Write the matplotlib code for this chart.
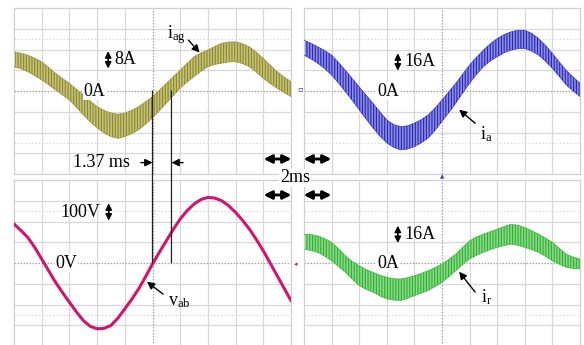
import numpy as np
import matplotlib.pyplot as plt
from matplotlib.patches import ConnectionPatch

plt.rcParams['font.family'] = ['Liberation Serif', 'DejaVu Serif']
plt.rcParams['mathtext.fontset'] = 'custom'
plt.rcParams['mathtext.rm'] = 'Liberation Serif'
plt.rcParams['mathtext.it'] = 'Liberation Serif:italic'
plt.rcParams['hatch.linewidth'] = 0.8

# time axis in divisions (2 ms/div), sampled every quarter division
t = np.arange(0, 10.25, 0.25)

# i_ag ripple band (upper / lower edge, divisions)
iag_hi = [1.89, 1.82, 1.73, 1.58, 1.41, 1.14, 0.85, 0.60, 0.37, 0.09, -0.19,
          -0.48, -0.75, -0.93, -1.06, -1.12, -1.06, -0.93, -0.75, -0.52, -0.27,
          0.04, 0.37, 0.69, 1.00, 1.34, 1.65, 1.84, 1.97, 2.15, 2.30, 2.36,
          2.37, 2.28, 2.13, 1.87, 1.57, 1.25, 0.93, 0.68, 0.45]
iag_lo = [1.17, 1.07, 0.93, 0.74, 0.53, 0.30, 0.05, -0.19, -0.43, -0.78, -1.15,
          -1.48, -1.78, -2.02, -2.20, -2.28, -2.20, -2.06, -1.87, -1.60, -1.30,
          -0.95, -0.59, -0.22, 0.14, 0.43, 0.69, 0.95, 1.17, 1.28, 1.34, 1.40,
          1.41, 1.32, 1.17, 0.90, 0.61, 0.36, 0.13, -0.08, -0.27]

# i_a ripple band
ia_hi = [2.45, 2.30, 2.13, 1.95, 1.73, 1.38, 1.00, 0.60, 0.20, -0.20, -0.59,
         -1.00, -1.39, -1.62, -1.71, -1.68, -1.55, -1.38, -1.15, -0.82, -0.43,
         -0.03, 0.37, 0.82, 1.25, 1.63, 1.97, 2.28, 2.53, 2.72, 2.85, 2.93,
         2.93, 2.78, 2.53, 2.20, 1.81, 1.40, 1.00, 0.68, 0.37]
ia_lo = [1.73, 1.55, 1.33, 1.08, 0.77, 0.38, -0.03, -0.46, -0.91, -1.35, -1.78,
         -2.18, -2.50, -2.72, -2.84, -2.80, -2.68, -2.50, -2.27, -1.90, -1.47,
         -1.04, -0.59, -0.10, 0.37, 0.80, 1.17, 1.45, 1.65, 1.84, 1.97, 2.04,
         2.05, 1.92, 1.73, 1.43, 1.09, 0.70, 0.29, 0.00, -0.27]

# v_ab trace
vab = [1.88, 1.57, 1.23, 0.75, 0.19, -0.37, -0.93, -1.42, -1.89, -2.35, -2.77,
       -3.05, -3.17, -3.15, -3.01, -2.66, -2.21, -1.75, -1.25, -0.66, -0.05,
       0.52, 1.07, 1.62, 2.12, 2.52, 2.84, 3.06, 3.16, 3.13, 3.00, 2.76,
       2.44, 2.06, 1.63, 1.13, 0.59, -0.01, -0.61, -1.21, -1.81]

# i_r ripple band
ir_hi = [1.39, 1.37, 1.31, 1.18, 1.00, 0.70, 0.35, 0.08, -0.13, -0.31, -0.45,
         -0.59, -0.69, -0.76, -0.77, -0.71, -0.61, -0.50, -0.37, -0.22, -0.05,
         0.18, 0.43, 0.76, 1.07, 1.26, 1.39, 1.51, 1.63, 1.76, 1.87, 1.82,
         1.71, 1.56, 1.39, 1.20, 1.00, 0.72, 0.43, 0.29, 0.19]
ir_lo = [0.67, 0.60, 0.51, 0.33, 0.11, -0.17, -0.45, -0.78, -1.09, -1.27, -1.41,
         -1.59, -1.73, -1.79, -1.81, -1.71, -1.57, -1.45, -1.33, -1.14, -0.93,
         -0.66, -0.37, -0.08, 0.19, 0.37, 0.51, 0.64, 0.75, 0.84, 0.91, 0.85,
         0.75, 0.64, 0.51, 0.32, 0.11, -0.06, -0.21, -0.26, -0.29]

# cursor positions (div) and the measured delay
t_vab_zero = 5.0
delay_ms = 1.37
ms_per_div = 2.0

W, H = 584, 345
fig = plt.figure(figsize=(W / 100, H / 100), dpi=100)


def px(x, y):
    return x / W, 1 - y / H


def scope_axes(x0, y0, x1, y1):
    ax = fig.add_axes([x0 / W, 1 - y1 / H, (x1 - x0) / W, (y1 - y0) / H])
    ax.set_xlim(0, 10)
    ax.set_ylim(-4, 4)
    for v in range(1, 10):
        if v != 5:
            ax.axvline(v, color='#d8d8d8', lw=0.9, zorder=0)
    for v in range(-3, 4):
        if v != 0:
            ax.axhline(v, color='#d8d8d8', lw=0.9, zorder=0)
    for v in (-2.5, 2.5):
        ax.axhline(v, color='#dcdcdc', lw=0.9, ls=(0, (1.2, 1.6)), zorder=0)
    ax.axvline(5, color='#a0a0a0', lw=0.9, ls=(0, (1.2, 1.2)), zorder=0)
    ax.axhline(0, color='#a0a0a0', lw=0.9, ls=(0, (1.2, 1.2)), zorder=0)
    ax.set_xticks([])
    ax.set_yticks([])
    for s in ax.spines.values():
        s.set_color('#d0d0d0')
        s.set_linewidth(0.9)
    return ax


ax1 = scope_axes(14, 8, 291, 174)
ax2 = scope_axes(304, 8, 580, 174)
ax3 = scope_axes(14, 180, 291, 346)
ax4 = scope_axes(304, 180, 580, 346)


def band(ax, hi, lo, dark, light):
    ax.fill_between(t, lo, hi, facecolor=light, edgecolor=dark, hatch='||||||',
                    linewidth=0, zorder=2)
    ax.plot(t, hi, color=dark, lw=0.5, alpha=0.8, zorder=3)
    ax.plot(t, lo, color=dark, lw=0.5, alpha=0.8, zorder=3)


band(ax1, iag_hi, iag_lo, '#8a862a', '#c6c27a')
band(ax2, ia_hi, ia_lo, '#2626b8', '#8c8ce0')
ax3.plot(t, vab, color='#d0156e', lw=2.2, zorder=3)
band(ax4, ir_hi, ir_lo, '#2caf2c', '#8ad88a')

txt = dict(fontsize=13, color='black', zorder=5)
zero_box = dict(facecolor='white', edgecolor='none', pad=0.5)
arr = dict(arrowstyle='-|>', color='black', lw=1.0, mutation_scale=11,
           shrinkA=0, shrinkB=0)
dbl = dict(arrowstyle='<|-|>', color='black', lw=1.2, mutation_scale=9,
           shrinkA=0, shrinkB=0)

# top-left: i_ag
ax1.annotate('', xy=(3.4, 1.92), xytext=(3.4, 1.08), arrowprops=dbl)
ax1.text(3.62, 1.5, '8A', va='center', ha='left', **txt)
ax1.text(2.9, 0, '0A', va='center', ha='center', bbox=zero_box, **txt)
ax1.text(5.85, 2.7, r'$\mathrm{i}_{\mathrm{ag}}$', va='center', ha='center', **txt)
ax1.annotate('', xy=(6.7, 1.85), xytext=(6.3, 2.45), arrowprops=arr)

# top-right: i_a
ax2.annotate('', xy=(3.4, 1.82), xytext=(3.4, 0.98), arrowprops=dbl)
ax2.text(3.62, 1.4, '16A', va='center', ha='left', **txt)
ax2.text(3.04, 0, '0A', va='center', ha='center', bbox=zero_box, **txt)
ax2.text(6.6, -2.1, r'$\mathrm{i}_{\mathrm{a}}$', va='center', ha='center', **txt)
ax2.annotate('', xy=(5.62, -0.9), xytext=(6.2, -1.55), arrowprops=arr)

# bottom-left: v_ab
ax3.text(3.12, 2.45, '100V', va='center', ha='right', **txt)
ax3.annotate('', xy=(3.42, 2.88), xytext=(3.42, 2.04), arrowprops=dbl)
ax3.text(1.88, 0, '0V', va='center', ha='center', bbox=zero_box, **txt)
ax3.text(5.95, -1.85, r'$\mathrm{v}_{\mathrm{ab}}$', va='center', ha='center', **txt)
ax3.annotate('', xy=(4.8, -0.9), xytext=(5.38, -1.5), arrowprops=arr)

# bottom-right: i_r
ax4.annotate('', xy=(3.4, 1.8), xytext=(3.4, 0.96), arrowprops=dbl)
ax4.text(3.62, 1.38, '16A', va='center', ha='left', **txt)
ax4.text(3.04, 0, '0A', va='center', ha='center', bbox=zero_box, **txt)
ax4.text(6.62, -1.65, r'$\mathrm{i}_{\mathrm{r}}$', va='center', ha='center', **txt)
ax4.annotate('', xy=(5.62, -0.42), xytext=(6.2, -1.4), arrowprops=arr)

# cursors at the two zero crossings
t_iag_zero = t_vab_zero + delay_ms / ms_per_div
for tc in (t_vab_zero, t_iag_zero):
    con = ConnectionPatch(xyA=(tc, 0), coordsA=ax1.transData,
                          xyB=(tc, 0), coordsB=ax3.transData,
                          color='#202020', lw=0.9, zorder=6)
    fig.add_artist(con)

ax1.text(4.2, -3.45, f'{delay_ms} ms', va='center', ha='right', **txt)
ax1.annotate('', xy=(t_vab_zero, -3.45), xytext=(t_vab_zero - 0.42, -3.45),
             arrowprops=arr)
ax1.annotate('', xy=(t_iag_zero, -3.45), xytext=(t_iag_zero + 0.42, -3.45),
             arrowprops=arr)

# time base marker between the panels
hdbl = dict(arrowstyle='<|-|>', color='black', lw=1.8, mutation_scale=12,
            shrinkA=0, shrinkB=0)
for yy in (159, 195):
    for xa, xb in ((264, 291), (304, 331)):
        fig.add_artist(plt.annotate('', xy=px(xb, yy), xytext=px(xa, yy),
                                    xycoords='figure fraction',
                                    textcoords='figure fraction',
                                    arrowprops=hdbl))
fig.text(*px(295, 178), f'{ms_per_div:g}ms', fontsize=13, ha='center', va='center',
         bbox=dict(facecolor='white', edgecolor='none', pad=0.5), zorder=7)

# channel reference markers
fig.text(*px(300, 89), '\u25ab', color='#3a3ad0', fontsize=6, ha='center',
         va='center', family='DejaVu Sans')
fig.text(*px(442, 177), '\u25b2', color='#3a3ad0', fontsize=4, ha='center',
         va='center', family='DejaVu Sans')
fig.text(*px(296, 264), '\u25c2', color='#d0156e', fontsize=5, ha='center',
         va='center', family='DejaVu Sans')

fig.savefig('out.png', dpi=100, facecolor='white')
